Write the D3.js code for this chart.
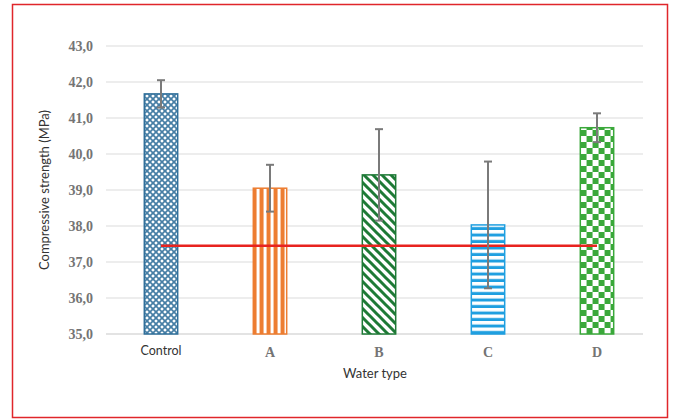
<!DOCTYPE html>
<html>
<head>
<meta charset="utf-8">
<script src="https://cdn.jsdelivr.net/npm/d3@7"></script>
<style>
  body { margin: 0; background: #fff; }
</style>
</head>
<body>
<svg></svg>
<script>
const w = 675;
const h = 420;

// data
const categories = ['Control', 'A', 'B', 'C', 'D'];
const strength = [41.67, 39.05, 39.42, 38.03, 40.73];
const errors = [0.38, 0.65, 1.27, 1.76, 0.4];
const refLine = 37.45;
const yTicks = [35, 36, 37, 38, 39, 40, 41, 42, 43];

const colors = ['#31709b', '#ed7d31', '#1e7a36', '#1f9fe0', '#3aa83a'];

const svg = d3.select('svg').attr('width', w).attr('height', h);

// outer red frame
svg.append('rect')
    .attr('x', 12.5).attr('y', 4.5)
    .attr('width', 655).attr('height', 413)
    .attr('fill', 'none')
    .attr('stroke', '#e0262b')
    .attr('stroke-width', 1.5);

const x = d3.scaleBand().domain(categories).range([106.5, 651.5]).paddingInner(0.68).paddingOuter(0.34);
const y = d3.scaleLinear().domain([35, 43]).range([334, 46]);

// patterns
const defs = svg.append('defs');

// control: diagonal crosshatch
const p0 = defs.append('pattern').attr('id', 'p0').attr('patternUnits', 'userSpaceOnUse')
    .attr('width', 6).attr('height', 6);
p0.append('rect').attr('width', 6).attr('height', 6).attr('fill', '#fff');
p0.append('path').attr('d', 'M0,0L6,6M6,0L0,6M-3,3L3,9M3,-3L9,3M3,-3L-3,3M9,3L3,9')
    .attr('stroke', colors[0]).attr('stroke-width', 1.7).attr('opacity', 0.9);

// A: vertical stripes
const p1 = defs.append('pattern').attr('id', 'p1').attr('patternUnits', 'userSpaceOnUse')
    .attr('width', 7).attr('height', 7).attr('x', x('A'));
p1.append('rect').attr('width', 7).attr('height', 7).attr('fill', '#fff');
p1.append('rect').attr('width', 4).attr('height', 7).attr('fill', colors[1]);

// B: wide downward diagonal
const p2 = defs.append('pattern').attr('id', 'p2').attr('patternUnits', 'userSpaceOnUse')
    .attr('width', 9).attr('height', 9);
p2.append('rect').attr('width', 9).attr('height', 9).attr('fill', '#fff');
p2.append('path').attr('d', 'M0,0L9,9M-4.5,4.5L4.5,13.5M4.5,-4.5L13.5,4.5')
    .attr('stroke', colors[2]).attr('stroke-width', 3);

// C: horizontal stripes
const p3 = defs.append('pattern').attr('id', 'p3').attr('patternUnits', 'userSpaceOnUse')
    .attr('width', 6.5).attr('height', 6.5).attr('y', 334);
p3.append('rect').attr('width', 6.5).attr('height', 6.5).attr('fill', '#fff');
p3.append('rect').attr('width', 6.5).attr('height', 3).attr('y', 3.5).attr('fill', colors[3]);

// D: checkerboard
const p4 = defs.append('pattern').attr('id', 'p4').attr('patternUnits', 'userSpaceOnUse')
    .attr('width', 12).attr('height', 12).attr('x', x('D') + 1).attr('y', 334);
p4.append('rect').attr('width', 12).attr('height', 12).attr('fill', '#fff');
p4.append('rect').attr('width', 6).attr('height', 6).attr('fill', colors[4]);
p4.append('rect').attr('x', 6).attr('y', 6).attr('width', 6).attr('height', 6).attr('fill', colors[4]);

// gridlines
svg.append('g')
    .selectAll('line')
    .data(yTicks)
    .enter()
    .append('line')
    .attr('x1', 106).attr('x2', 643)
    .attr('y1', (d) => y(d)).attr('y2', (d) => y(d))
    .attr('stroke', (d) => (d === 35 ? '#c8c8c8' : '#dcdcdc'))
    .attr('stroke-width', 1.2);

// y tick labels
svg.append('g')
    .selectAll('text')
    .data(yTicks)
    .enter()
    .append('text')
    .attr('x', 93)
    .attr('y', (d) => y(d) + 5)
    .attr('text-anchor', 'end')
    .attr('font-family', 'Liberation Serif, serif')
    .attr('font-size', 14)
    .attr('font-weight', 'bold')
    .attr('fill', '#747474')
    .text((d) => d.toFixed(1).replace('.', ','));

// bars
svg.append('g')
    .selectAll('rect')
    .data(strength)
    .enter()
    .append('rect')
    .attr('x', (d, i) => x(categories[i]) + 0.75)
    .attr('y', (d) => y(d))
    .attr('width', x.bandwidth() - 1.5)
    .attr('height', (d) => y(35) - y(d))
    .attr('fill', (d, i) => 'url(#p' + i + ')')
    .attr('stroke', (d, i) => colors[i])
    .attr('stroke-width', 1.5);

// reference line
svg.append('line')
    .attr('x1', x('Control') + x.bandwidth() / 2)
    .attr('x2', x('D') + x.bandwidth() / 2)
    .attr('y1', y(refLine)).attr('y2', y(refLine))
    .attr('stroke', '#e8231f')
    .attr('stroke-width', 2.5);

// error bars
const eb = svg.append('g').attr('stroke', '#7a7a7a').attr('stroke-width', 2);
strength.forEach((v, i) => {
    const cx = x(categories[i]) + x.bandwidth() / 2;
    const lo = y(v - errors[i]);
    const hi = y(v + errors[i]);
    eb.append('line').attr('x1', cx).attr('x2', cx).attr('y1', lo).attr('y2', hi);
    eb.append('line').attr('x1', cx - 4).attr('x2', cx + 4).attr('y1', lo).attr('y2', lo);
    eb.append('line').attr('x1', cx - 4).attr('x2', cx + 4).attr('y1', hi).attr('y2', hi);
});

// category labels
svg.append('g')
    .selectAll('text')
    .data(categories)
    .enter()
    .append('text')
    .attr('x', (d) => x(d) + x.bandwidth() / 2)
    .attr('y', (d) => (d === 'Control' ? 355 : 357))
    .attr('text-anchor', 'middle')
    .attr('font-family', (d) => (d === 'Control' ? 'Lato, sans-serif' : 'Liberation Serif, serif'))
    .attr('font-size', (d) => (d === 'Control' ? 12.5 : 14))
    .attr('font-weight', (d) => (d === 'Control' ? 'normal' : 'bold'))
    .attr('fill', (d) => (d === 'Control' ? '#333' : '#747474'))
    .text((d) => d);

// axis titles
svg.append('text')
    .attr('x', 375).attr('y', 378)
    .attr('text-anchor', 'middle')
    .attr('font-family', 'Lato, sans-serif')
    .attr('font-size', 13)
    .attr('fill', '#333')
    .text('Water type');

svg.append('text')
    .attr('transform', 'translate(49,190) rotate(-90)')
    .attr('text-anchor', 'middle')
    .attr('font-family', 'Lato, sans-serif')
    .attr('font-size', 13)
    .attr('fill', '#333')
    .text('Compressive strength (MPa)');
</script>
</body>
</html>
